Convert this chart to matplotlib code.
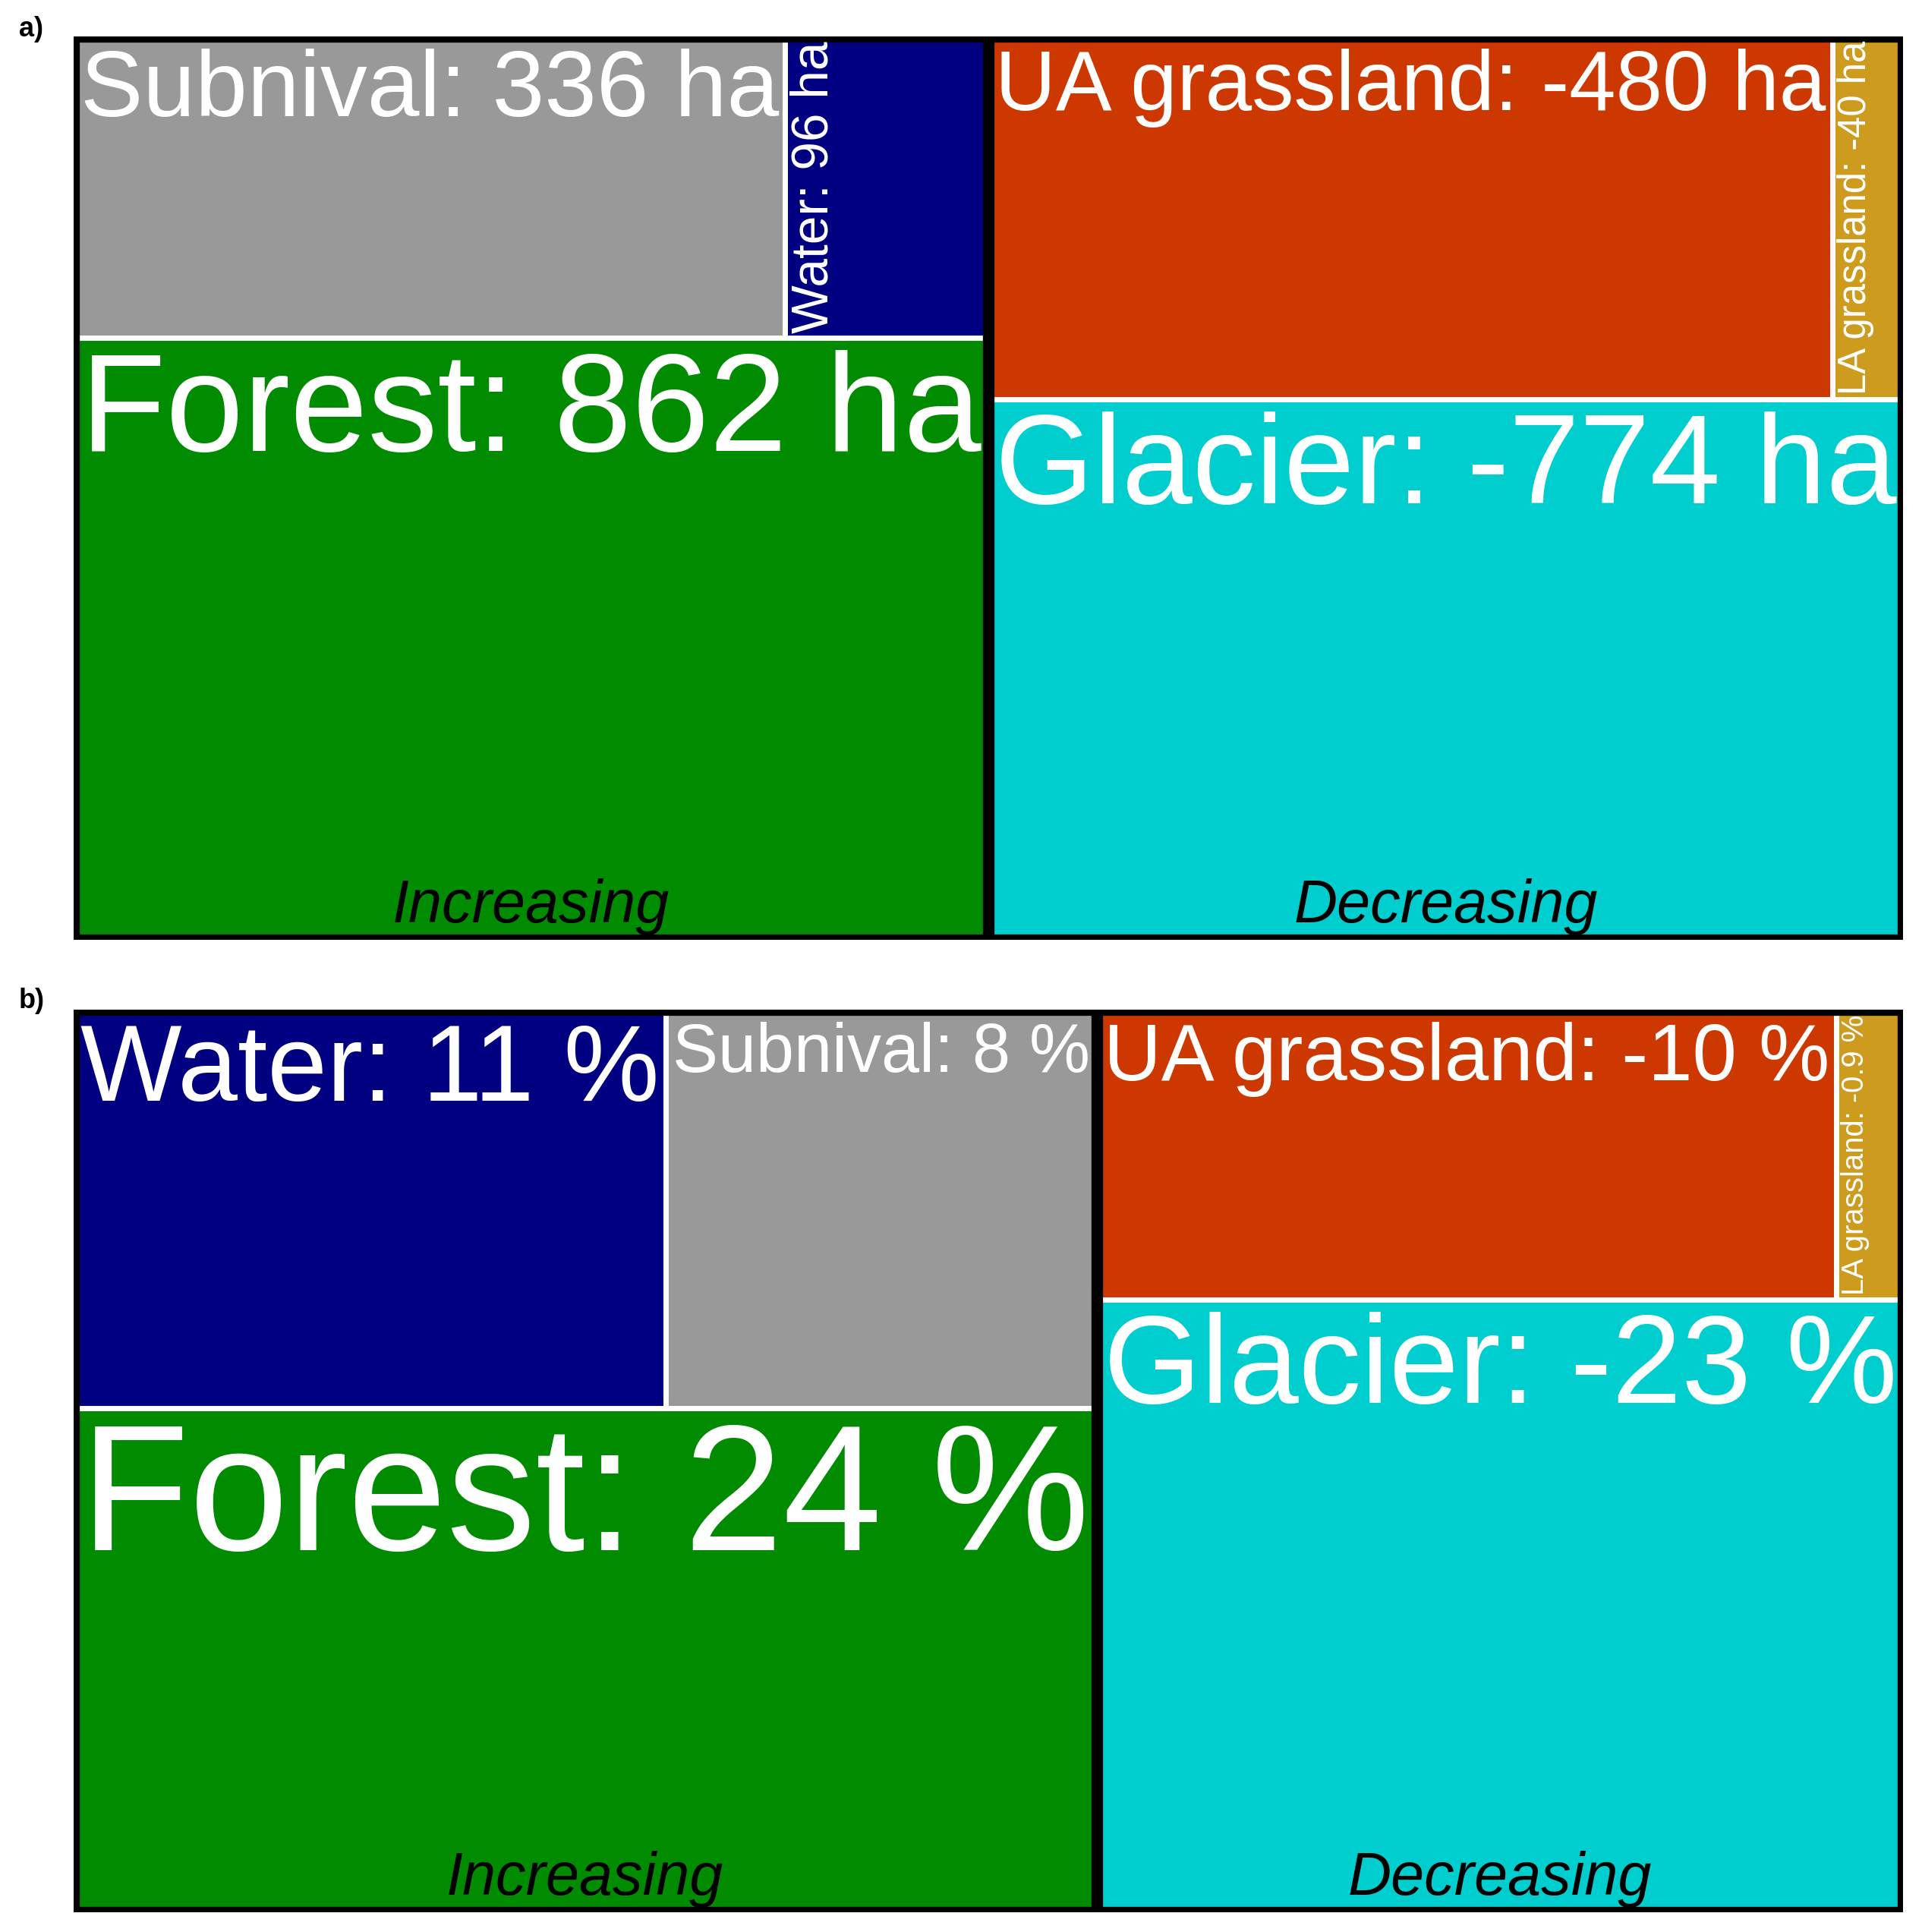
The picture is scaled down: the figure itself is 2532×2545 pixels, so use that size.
import matplotlib

matplotlib.use("Agg")
import matplotlib.pyplot as plt
from matplotlib.patches import Rectangle

plt.rcParams["font.family"] = ["Liberation Sans", "DejaVu Sans"]

# a) change in area (ha)
area_inc_names = ["Forest", "Subnival", "Water"]
area_inc_values = [862, 336, 96]
area_dec_names = ["Glacier", "UA grassland", "LA grassland"]
area_dec_values = [-774, -480, -40]

# b) relative change (%)
pct_inc_names = ["Forest", "Water", "Subnival"]
pct_inc_values = [24, 11, 8]
pct_dec_names = ["Glacier", "UA grassland", "LA grassland"]
pct_dec_values = [-23, -10, -0.9]

group_labels = ["Increasing", "Decreasing"]
panel_labels = ["a)", "b)"]

colors = {
    "Forest": "#008B00",
    "Subnival": "#999999",
    "Water": "#000080",
    "Glacier": "#00CDCD",
    "UA grassland": "#CD3700",
    "LA grassland": "#CD9B1D",
}

W, H, DPI = 2532, 2545, 100
fig = plt.figure(figsize=(W / DPI, H / DPI), dpi=DPI)
renderer = fig.canvas.get_renderer()


def fit_text(txt, target_px, vertical=False):
    for _ in range(3):
        bb = txt.get_window_extent(renderer)
        size = bb.height if vertical else bb.width
        txt.set_fontsize(txt.get_fontsize() * target_px / size)


def label_item(ax, x0, y0, w, h, text):
    p0 = ax.transData.transform((x0, y0))
    p1 = ax.transData.transform((x0 + w, y0 + h))
    wpx, hpx = p1 - p0
    if hpx > wpx:
        t = ax.annotate(text, xy=(x0, y0), xytext=(6, 6), textcoords="offset pixels",
                        rotation=90, rotation_mode="anchor", ha="left", va="top",
                        color="white", fontsize=20, zorder=4)
        fit_text(t, hpx - 12, vertical=True)
    else:
        t = ax.annotate(text, xy=(x0, y0 + h), xytext=(9, -16), textcoords="offset pixels",
                        ha="left", va="top", color="white", fontsize=20, zorder=4)
        fit_text(t, wpx - 18)


def draw_panel(ax, inc_names, inc_values, dec_names, dec_values, unit):
    ax.set_xlim(0, 1)
    ax.set_ylim(0, 1)
    ax.axis("off")
    inc_total = sum(abs(v) for v in inc_values)
    dec_total = sum(abs(v) for v in dec_values)
    total = inc_total + dec_total
    groups = [
        (0.0, inc_total / total, inc_names, inc_values),
        (inc_total / total, dec_total / total, dec_names, dec_values),
    ]
    for (gx, gw, names, values), glabel in zip(groups, group_labels):
        order = sorted(range(len(values)), key=lambda i: -abs(values[i]))
        big, s1, s2 = order
        gsum = sum(abs(v) for v in values)
        top_h = (abs(values[s1]) + abs(values[s2])) / gsum
        w1 = gw * abs(values[s1]) / (abs(values[s1]) + abs(values[s2]))
        rects = [
            (big, gx, 0.0, gw, 1 - top_h),
            (s1, gx, 1 - top_h, w1, top_h),
            (s2, gx + w1, 1 - top_h, gw - w1, top_h),
        ]
        for i, x0, y0, w, h in rects:
            ax.add_patch(Rectangle((x0, y0), w, h, facecolor=colors[names[i]],
                                   edgecolor="white", linewidth=5, zorder=1))
            label_item(ax, x0, y0, w, h, f"{names[i]}: {values[i]:g} {unit}")
        border = Rectangle((gx, 0), gw, 1, fill=False, edgecolor="black",
                           linewidth=11, zorder=3)
        ax.add_patch(border)
        border.set_clip_path(border)
        ax.annotate(glabel, xy=(gx + gw / 2, 0), xytext=(0, 6), textcoords="offset pixels",
                    ha="center", va="bottom", style="italic", fontsize=57,
                    color="black", zorder=4)


ax_a = fig.add_axes([97 / W, 1 - 1238 / H, (2507 - 97) / W, (1238 - 48) / H])
ax_b = fig.add_axes([97 / W, 1 - 2519 / H, (2507 - 97) / W, (2519 - 1330) / H])

draw_panel(ax_a, area_inc_names, area_inc_values, area_dec_names, area_dec_values, "ha")
draw_panel(ax_b, pct_inc_names, pct_inc_values, pct_dec_names, pct_dec_values, "%")

fig.text(25 / W, 1 - 48 / H, panel_labels[0], fontsize=26, fontweight="bold", va="baseline")
fig.text(25 / W, 1 - 1328 / H, panel_labels[1], fontsize=26, fontweight="bold", va="baseline")

fig.savefig("out.png", dpi=DPI, facecolor="white")
